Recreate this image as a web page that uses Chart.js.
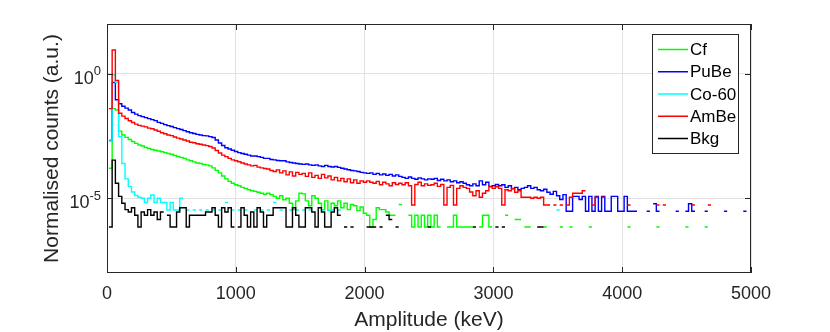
<!DOCTYPE html>
<html>
<head>
<meta charset="utf-8">
<script src="https://cdn.jsdelivr.net/npm/chart.js@4.4.0/dist/chart.umd.min.js"></script>
<style>
  body { margin: 0; background: #fff; }
  #chart { display: block; }
</style>
</head>
<body>
<canvas id="chart" width="830" height="332"></canvas>
<script>
// histogram bins: 25 keV wide, first bin starts at 15 keV, null = empty bin
const binStart = 15;
const binWidth = 25;

const cf = [
  1.6e-4, 4.0e-2, 3.5e-2, 5.0e-3, 3.5e-3, 2.8e-3, 2.3e-3, 1.9e-3, 1.6e-3, 1.38e-3,
  1.26e-3, 1.1e-3, 1.0e-3, 9.1e-4, 8.5e-4, 7.9e-4, 7.4e-4, 6.8e-4, 6.3e-4, 5.9e-4,
  5.2e-4, 4.8e-4, 4.4e-4, 4.0e-4, 3.5e-4, 3.2e-4, 2.9e-4, 2.6e-4, 2.5e-4, 2.3e-4,
  2.2e-4, 2.0e-4, 1.66e-4, 1.32e-4, 1.05e-4, 7.9e-5, 6.0e-5, 4.8e-5, 4.0e-5, 3.5e-5,
  3.2e-5, 2.75e-5, 2.5e-5, 2.2e-5, 2.0e-5, 1.9e-5, 1.74e-5, 1.6e-5, 1.45e-5, 1.6e-5,
  1.4e-5, 1.2e-5, 1.0e-5, 1.26e-5, 8.7e-6, 1.0e-5, 6.3e-6, 3.5e-6, 7.9e-6, 1.6e-5,
  1.5e-5, 7.9e-6, 5.0e-6, 1.26e-5, 1.0e-5, 6.3e-6, 3.5e-6, 7.9e-6, 3.2e-6, 6.3e-6,
  5.0e-6, 7.9e-6, 4.2e-6, 6.3e-6, 3.5e-6, 5.6e-6, 5.0e-6, 3.2e-6, 4.5e-6, 2.5e-6,
  2.1e-6, 7e-7, 1.4e-6, 4.2e-6, 3.5e-6, 3.5e-6, 2.8e-6, 2.1e-6, 2.1e-6, null,
  5.6e-6, null, null, 2.1e-6, 7e-7, 2.1e-6, 7e-7, 2.1e-6, 7e-7, 2.1e-6,
  7e-7, 2.1e-6, 7e-7, null, null, 7e-7, 7e-7, 2.1e-6, 7e-7, 7e-7,
  7e-7, 7e-7, 7e-7, null, null, 7e-7, 2.1e-6, 2.1e-6, 7e-7, null,
  null, null, null, 2.1e-6, null, null, 1.4e-6, 1.4e-6, null, 7e-7,
  7e-7, null, null, null, null, 7e-7, null, null, null, null,
  7e-7, null, null, 7e-7, null, null, null, null, null, 7e-7,
  null, null, null, null, null, null, null, null, null, null,
  null, 7e-7, null, null, null, null, null, null, null, null,
  7e-7, null, null, null, null, null, null, null, null, 7e-7,
  null, null, null, null, null, 7e-7
];

const pube = [
  2.1e-3, 0.45, 9.1e-2, 6.3e-2, 5.0e-2, 4.2e-2, 3.5e-2, 2.8e-2, 2.4e-2, 2.1e-2,
  1.9e-2, 1.74e-2, 1.58e-2, 1.45e-2, 1.32e-2, 1.12e-2, 1.02e-2, 9.1e-3, 8.3e-3, 7.6e-3,
  6.9e-3, 6.3e-3, 5.8e-3, 5.2e-3, 4.7e-3, 4.3e-3, 4.0e-3, 3.7e-3, 3.5e-3, 3.3e-3,
  3.2e-3, 3.0e-3, 2.75e-3, 2.2e-3, 1.66e-3, 1.32e-3, 1.07e-3, 9.5e-4, 8.5e-4, 7.6e-4,
  6.8e-4, 6.3e-4, 5.9e-4, 5.4e-4, 5.0e-4, 5.0e-4, 4.7e-4, 4.4e-4, 4.0e-4, 4.0e-4,
  3.6e-4, 3.5e-4, 3.3e-4, 3.2e-4, 3.2e-4, 2.9e-4, 2.75e-4, 2.6e-4, 2.5e-4, 2.4e-4,
  2.3e-4, 2.4e-4, 2.2e-4, 2.1e-4, 2.2e-4, 2.0e-4, 1.9e-4, 2.1e-4, 1.9e-4, 1.8e-4,
  1.9e-4, 1.74e-4, 1.6e-4, 1.5e-4, 1.4e-4, 1.3e-4, 1.26e-4, 1.2e-4, 1.1e-4, 1.05e-4,
  1.0e-4, 1.05e-4, 9.1e-5, 1.0e-4, 8.7e-5, 9.5e-5, 8.3e-5, 9.1e-5, 7.9e-5, 8.7e-5,
  7.6e-5, 6.9e-5, 6.3e-5, 7.2e-5, 6.3e-5, 5.8e-5, 6.6e-5, 6.0e-5, 5.5e-5, 6.0e-5,
  5.8e-5, 6.3e-5, 5.2e-5, 5.8e-5, 5.0e-5, 5.5e-5, 4.6e-5, 5.0e-5, 4.2e-5, 4.6e-5,
  4.0e-5, 3.5e-5, 3.2e-5, 3.8e-5, 3.2e-5, 5.0e-5, 3.5e-5, 4.4e-5, 3.0e-5, 3.2e-5,
  3.6e-5, 3.2e-5, 3.5e-5, 2.75e-5, 3.2e-5, 2.4e-5, 2.75e-5, 2.2e-5, 2.5e-5, 2.75e-5,
  3.2e-5, 2.5e-5, 2.75e-5, 2.2e-5, 2.0e-5, 2.3e-5, 1.74e-5, 1.45e-5, 1.9e-5, 1.26e-5,
  8.9e-6, 1.4e-5, 3e-6, 3e-6, 1.2e-5, 1.2e-5, 8.9e-6, 1.2e-5, 3e-6, 1.2e-5,
  3e-6, 1.2e-5, 3e-6, 1.2e-5, 3e-6, 3e-6, 1.2e-5, 1.2e-5, 3e-6, 3e-6,
  1.2e-5, 3e-6, 3e-6, 3e-6, null, null, null, 3e-6, null, 6e-6,
  3e-6, null, null, null, null, null, 3e-6, null, null, 3e-6,
  6e-6, 3e-6, null, null, null, 3e-6, null, null, null, null,
  null, 3e-6, null, null, null, null, null, 3e-6, null
];

const co60 = [
  2.0e-3, 0.9, 0.45, 3.0e-3, 2.5e-4, 6.0e-5, 3.0e-5, 1.8e-5, 1.3e-5, 1.1e-5,
  1.0e-5, 6.8e-6, 1.0e-5, 1.36e-5, 6.8e-6, 1.0e-5, 6.8e-6, 6.8e-6, 3.4e-6, 6.8e-6,
  3.4e-6, 3.4e-6, 1.0e-5, null, 3.4e-6, null, 3.4e-6, null, 3.4e-6, null,
  3.4e-6, null, 3.4e-6, null, 3.4e-6, null, 6.8e-6, null, 3.4e-6, null,
  3.4e-6, null, 3.4e-6, null, null, 3.4e-6, null, 3.4e-6, null, 3.4e-6,
  null, 6.8e-6, null, 3.4e-6, null, null, 3.4e-6, null, 3.4e-6, null,
  3.4e-6, null, 3.4e-6, null, null, null, 3.4e-6, null, 3.4e-6, 3.4e-6,
  null, 3.4e-6, null, null, null, null, null, null, null, null,
  null, null, null, null, null, null, null, null, null, null,
  null, null, null, null, null, null, null, null, null, null,
  null, null, null, null, null, null, null, null, null, null,
  null, null, null, null, null, null, null, null, null, null,
  null, null, null, null, null, null, null, null, null, null,
  null, null, null, null, null, null, null, null, null, 3.4e-6
];

const ambe = [
  4.0e-2, 9.0, 0.54, 2.6e-2, 2.0e-2, 1.6e-2, 1.3e-2, 1.1e-2, 9.5e-3, 8.5e-3,
  7.9e-3, 7.4e-3, 6.6e-3, 6.2e-3, 5.5e-3, 4.9e-3, 4.3e-3, 3.9e-3, 3.5e-3, 3.3e-3,
  2.9e-3, 2.6e-3, 2.4e-3, 2.2e-3, 2.0e-3, 1.78e-3, 1.7e-3, 1.55e-3, 1.48e-3, 1.38e-3,
  1.3e-3, 1.2e-3, 1.05e-3, 8.3e-4, 6.6e-4, 5.4e-4, 4.7e-4, 4.0e-4, 3.5e-4, 3.2e-4,
  2.95e-4, 2.6e-4, 2.4e-4, 2.2e-4, 2.0e-4, 2.1e-4, 1.78e-4, 1.66e-4, 1.58e-4, 1.5e-4,
  1.3e-4, 1.2e-4, 1.38e-4, 1.05e-4, 1.26e-4, 8.7e-5, 1.15e-4, 7.9e-5, 1.1e-4, 9.1e-5,
  1.0e-4, 7.6e-5, 1.05e-4, 6.9e-5, 8.3e-5, 6.3e-5, 9.1e-5, 6.6e-5, 7.9e-5, 5.5e-5,
  6.9e-5, 5.0e-5, 6.3e-5, 4.6e-5, 6.0e-5, 4.2e-5, 5.5e-5, 4.0e-5, 5.0e-5, 4.4e-5,
  5.0e-5, 4.4e-5, 4.0e-5, 4.8e-5, 3.5e-5, 4.4e-5, 3.8e-5, 3.2e-5, 4.2e-5, 3.6e-5,
  4.0e-5, 3.5e-5, 4.2e-5, 3.2e-5, 5.4e-6, 3.6e-5, 4.4e-5, 3.2e-5, 3.8e-5, 3.3e-5,
  3.5e-5, 4.0e-5, 3.0e-5, 3.6e-5, 5.4e-6, 2.75e-5, 3.3e-5, 5.4e-6, 2.5e-5, 3.2e-5,
  2.75e-5, 2.5e-5, 1.8e-5, 1.26e-5, 2.0e-5, 1.1e-5, 1.6e-5, 2.0e-5, 2.9e-5, 2.5e-5,
  2.9e-5, 2.5e-5, 5.4e-6, 2.2e-5, 2.0e-5, 2.5e-5, 1.74e-5, 2.0e-5, 1.1e-5, 1.1e-5,
  1.1e-5, 1.0e-5, 1.1e-5, 1.0e-5, 1.1e-5, 5.4e-6, 5.4e-6, null, 5.4e-6, null,
  5.4e-6, null, 5.4e-6, 1.1e-5, 1.6e-5, 1.6e-5, 1.6e-5, 2.0e-5, null, null,
  5.4e-6, 1.1e-5, null, 1.1e-5, null, null, null, null, null, null,
  null, 5.4e-6, null, null, null, null, null, null, null, null,
  5.4e-6, null, 5.4e-6, null, null, null, null, null, null, null,
  null, 5.4e-6, null, null, null, null, 5.4e-6
];

const bkg = [
  7e-7, 3.4e-4, 4.0e-5, 1.2e-5, 6.3e-6, 3.5e-6, 2.8e-6, 4.2e-6, 2.1e-6, 7e-7,
  2.8e-6, 2.1e-6, 3.5e-6, 2.1e-6, 2.8e-6, 1.4e-6, 2.8e-6, null, 2.1e-6, 7e-7,
  7e-7, 2.8e-6, 4.2e-6, 4.2e-6, 7e-7, 2.1e-6, 2.1e-6, 2.1e-6, 2.1e-6, 2.1e-6,
  2.8e-6, 2.8e-6, 4.2e-6, 2.1e-6, 7e-7, 4.2e-6, 2.8e-6, 4.2e-6, 7e-7, null,
  7e-7, 4.2e-6, 2.1e-6, 7e-7, 2.8e-6, 7e-7, 4.2e-6, 2.8e-6, 7e-7, 2.1e-6,
  2.1e-6, 4.2e-6, 4.2e-6, 4.2e-6, 4.2e-6, 7e-7, 7e-7, 4.2e-6, 2.1e-6, 7e-7,
  7e-7, 4.2e-6, 4.2e-6, 2.8e-6, 7e-7, 4.2e-6, 2.8e-6, 7e-7, 7e-7, 2.8e-6,
  4.2e-6, 2.1e-6, null, 7e-7, null, 7e-7, null, null, null, null,
  7e-7, 7e-7, 7e-7, null, 7e-7, null, 2.1e-6, 1.4e-6, null, 7e-7,
  null, null, null, null, null, null, null, null, null, 7e-7,
  null, null, null, null, null, null, null, null, null, null,
  null, null, null, 7e-7, null, null, null, null, null, null,
  7e-7, null, 7e-7, null, null, null, null, null, null, null,
  null, null, null, 7e-7, 7e-7
];

const seriesNames = ['Cf', 'PuBe', 'Co-60', 'AmBe', 'Bkg'];
const seriesData = [cf, pube, co60, ambe, bkg];
const seriesColors = ['#00ff00', '#0000ff', '#00ffff', '#ff0000', '#000000'];

const xTicks = [0, 1000, 2000, 3000, 4000, 5000];
const yTicks = [1e-5, 1];
const yTickLabels = [['10', '-5'], ['10', '0']];

const fontFamily = '"Liberation Sans", Arial, Helvetica, sans-serif';
const axisColor = '#262626';

// each bin becomes a flat step from its left edge to its right edge
function stairs(values) {
    const pts = [];
    values.forEach(function(v, k) {
        const x0 = binStart + k * binWidth;
        if (v === null) {
            pts.push({x: x0, y: null});
            return;
        }
        pts.push({x: x0, y: v});
        pts.push({x: x0 + binWidth, y: v});
    });
    return pts;
}

const boxPlugin = {
    id: 'box',
    afterDatasetsDraw(chart) {
        const ctx = chart.ctx;
        const a = chart.chartArea;
        const xs = chart.scales.x;
        const ys = chart.scales.y;
        ctx.save();

        // axes box + inward ticks
        ctx.strokeStyle = axisColor;
        ctx.lineWidth = 1;
        ctx.strokeRect(a.left + 0.5, a.top + 0.5, a.right - a.left - 1, a.bottom - a.top - 1);
        ctx.beginPath();
        xTicks.forEach(function(v) {
            const px = Math.round(xs.getPixelForValue(v)) + 0.5;
            ctx.moveTo(px, a.bottom); ctx.lineTo(px, a.bottom - 6);
            ctx.moveTo(px, a.top); ctx.lineTo(px, a.top + 6);
        });
        yTicks.forEach(function(v) {
            const py = Math.round(ys.getPixelForValue(v)) + 0.5;
            ctx.moveTo(a.left, py); ctx.lineTo(a.left + 6, py);
            ctx.moveTo(a.right, py); ctx.lineTo(a.right - 6, py);
        });
        ctx.stroke();

        // y tick labels with superscript exponent
        ctx.fillStyle = axisColor;
        ctx.textBaseline = 'alphabetic';
        yTicks.forEach(function(v, i) {
            const py = ys.getPixelForValue(v);
            const right = a.left - 6;
            ctx.font = '13px ' + fontFamily;
            const ew = ctx.measureText(yTickLabels[i][1]).width;
            ctx.textAlign = 'left';
            ctx.fillText(yTickLabels[i][1], right - ew, py + 1.5);
            ctx.font = '18px ' + fontFamily;
            ctx.textAlign = 'right';
            ctx.fillText(yTickLabels[i][0], right - ew, py + 10);
        });

        // legend box
        const lx = 652, ly = 34, lw = 86, lh = 119;
        ctx.fillStyle = '#ffffff';
        ctx.fillRect(lx, ly, lw, lh);
        ctx.strokeStyle = axisColor;
        ctx.lineWidth = 1;
        ctx.strokeRect(lx + 0.5, ly + 0.5, lw, lh);
        ctx.font = '17px ' + fontFamily;
        ctx.textAlign = 'left';
        ctx.textBaseline = 'middle';
        chart.data.datasets.forEach(function(ds, i) {
            const y = ly + 15.5 + i * 22.25;
            ctx.strokeStyle = ds.borderColor;
            ctx.lineWidth = 1.5;
            ctx.beginPath();
            ctx.moveTo(lx + 6, y);
            ctx.lineTo(lx + 36, y);
            ctx.stroke();
            ctx.fillStyle = '#000000';
            ctx.fillText(ds.label, lx + 38, y + 1);
        });
        ctx.restore();
    }
};

const chart = new Chart(document.getElementById('chart').getContext('2d'), {
    type: 'line',
    data: {
        datasets: seriesNames.map(function(name, i) {
            return {
                label: name,
                data: stairs(seriesData[i]),
                borderColor: seriesColors[i],
                borderWidth: 1.4,
                pointRadius: 0,
                fill: false,
                tension: 0,
                spanGaps: false,
                order: seriesNames.length - i
            };
        })
    },
    options: {
        responsive: false,
        animation: false,
        layout: {
            padding: { left: 0, top: 24, right: 79, bottom: 0 }
        },
        plugins: {
            legend: { display: false },
            tooltip: { enabled: false }
        },
        scales: {
            x: {
                type: 'linear',
                min: 0,
                max: 5000,
                afterFit: function(s) { s.height = 59; },
                afterBuildTicks: function(s) { s.ticks = xTicks.map(v => ({value: v})); },
                grid: { color: '#e2e2e2', drawTicks: false },
                border: { display: false },
                ticks: {
                    font: { family: fontFamily, size: 18 },
                    color: axisColor,
                    padding: 10,
                    maxRotation: 0,
                    autoSkip: false,
                    callback: v => String(v)
                },
                title: {
                    display: true,
                    text: 'Amplitude (keV)',
                    font: { family: fontFamily, size: 21, lineHeight: 1.0 },
                    color: axisColor,
                    padding: { top: 0, bottom: 1 }
                }
            },
            y: {
                type: 'logarithmic',
                min: 1e-8,
                max: 100,
                afterFit: function(s) { s.width = 107; },
                afterBuildTicks: function(s) { s.ticks = yTicks.map(v => ({value: v})); },
                grid: { color: '#e2e2e2', drawTicks: false },
                border: { display: false },
                ticks: { display: false },
                title: {
                    display: true,
                    text: 'Normalised counts (a.u.)',
                    font: { family: fontFamily, size: 21 },
                    color: axisColor,
                    padding: { top: 40, bottom: 0 }
                }
            }
        }
    },
    plugins: [boxPlugin]
});
</script>
</body>
</html>
